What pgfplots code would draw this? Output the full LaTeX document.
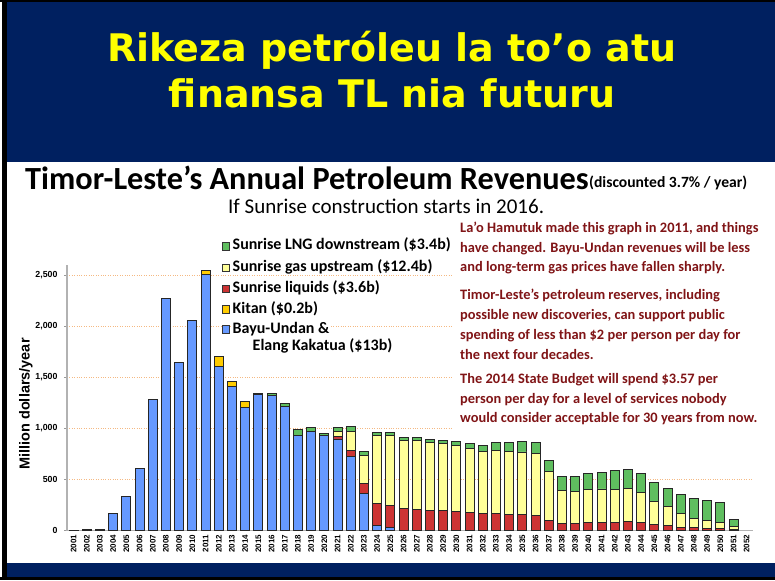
\documentclass[border=0pt]{standalone}
\usepackage{pgfplots}
\pgfplotsset{compat=1.18}
\usepackage{pgfplotstable}
\usepackage{fontspec}
\setmainfont{Carlito}
\newfontfamily\arialfont{Liberation Sans}
\newfontfamily\titlefont{DejaVu Sans}
\definecolor{navy}{RGB}{0,32,96}
\definecolor{ttlyellow}{RGB}{255,255,0}
\definecolor{cblue}{RGB}{102,153,255}
\definecolor{ckitan}{RGB}{255,204,0}
\definecolor{cred}{RGB}{204,51,51}
\definecolor{cyellow}{RGB}{255,255,153}
\definecolor{cgreen}{RGB}{95,190,95}
\definecolor{txtred}{RGB}{128,20,22}
\definecolor{gridorange}{RGB}{245,185,130}

\pgfplotstableread{
year blue kitan red yellow green
2001 5 0 0 0 0
2002 10 0 0 0 0
2003 13 0 0 0 0
2004 170 0 0 0 0
2005 332 0 0 0 0
2006 606 0 0 0 0
2007 1284 0 0 0 0
2008 2269 0 0 0 0
2009 1650 0 0 0 0
2010 2057 0 0 0 0
2011 2510 33 0 0 0
2012 1610 92 0 0 0
2013 1412 45 0 0 0
2014 1205 58 0 0 0
2015 1328 0 0 0 18
2016 1325 0 0 0 18
2017 1219 0 0 0 30
2018 932 0 0 0 60
2019 968 0 0 0 40
2020 927 0 0 0 27
2021 897 0 22 49 44
2022 724 0 62 182 56
2023 363 0 97 280 35
2024 52 0 215 665 30
2025 33 0 215 684 26
2026 0 0 215 672 29
2027 0 0 212 671 30
2028 0 0 202 659 32
2029 0 0 199 652 36
2030 0 0 192 643 39
2031 0 0 179 623 49
2032 0 0 166 607 62
2033 0 0 170 612 79
2034 0 0 163 610 94
2035 0 0 163 607 104
2036 0 0 150 603 111
2037 0 0 104 473 108
2038 0 0 75 316 137
2039 0 0 75 310 143
2040 0 0 82 322 157
2041 0 0 82 326 166
2042 0 0 82 322 186
2043 0 0 88 326 186
2044 0 0 82 293 189
2045 0 0 59 225 192
2046 0 0 49 186 179
2047 0 0 36 134 185
2048 0 0 29 95 192
2049 0 0 23 81 193
2050 0 0 20 65 192
2051 0 0 10 29 72
2052 0 0 0 0 0
}\datatable

\begin{document}
\begin{tikzpicture}[x=1pt,y=1pt]
\path[use as bounding box] (0,0) rectangle (775,580);
\fill[white] (0,0) rectangle (775,580);
% slide frame
\fill[navy] (7,418) rectangle (775,578);
\fill[black] (0,578) rectangle (775,580);
\fill[navy] (7,3) rectangle (775,17);
\fill[black] (0,0) rectangle (775,3);
\fill[black] (2,0) rectangle (7,580);
% slide title
\node[anchor=base, text=ttlyellow, inner sep=0, font=\titlefont\bfseries\fontsize{38}{42}\selectfont] at (392,518) {Rikeza petróleu la to’o atu};
\node[anchor=base, text=ttlyellow, inner sep=0, font=\titlefont\bfseries\fontsize{38}{42}\selectfont] at (392,472) {finansa TL nia futuru};

\begin{axis}[
  at={(67pt,49.3pt)}, anchor=south west,
  scale only axis, width=686.4pt, height=265.8pt,
  xmin=2000.5, xmax=2052.5, ymin=0, ymax=2600,
  ybar stacked, bar width=9pt,
  axis x line*=bottom, axis y line*=left,
  axis line style={draw=black!30, line width=1.2pt},
  xtick={2001,...,2052},
  ytick={0,500,...,2500},
  tick align=outside,
  major tick length=3pt,
  x tick style={draw=none},
  y tick style={draw=black!40, line width=0.6pt},
  ymajorgrids,
  grid style={gridorange, dotted, line width=0.9pt},
  /pgf/number format/assume math mode=true,
  /pgf/number format/1000 sep={,},
  yticklabel style={font=\arialfont\bfseries\fontsize{8.8}{10}\selectfont, xshift=-3pt},
  xticklabel style={rotate=90, anchor=east, inner sep=1pt, yshift=0pt,
     font=\arialfont\bfseries\fontsize{8}{9}\selectfont,
     /pgf/number format/1000 sep={}},
  every axis plot/.append style={draw=black!85, line width=0.9pt},
]
\addplot[fill=cblue] table[x=year,y=blue] {\datatable};
\addplot[fill=ckitan] table[x=year,y=kitan] {\datatable};
\addplot[fill=cred] table[x=year,y=red] {\datatable};
\addplot[fill=cyellow] table[x=year,y=yellow] {\datatable};
\addplot[fill=cgreen] table[x=year,y=green] {\datatable};
\end{axis}

% white box behind red notes (hides gridlines)
\fill[white] (452,146) rectangle (772,365);

% y label
\node[rotate=90, font=\arialfont\bfseries\fontsize{14.5}{16}\selectfont] at (26,176) {Million dollars/year};

% chart title
\node[anchor=base west, inner sep=0, font=\bfseries\fontsize{32.3}{36}\selectfont] at (25,390) {Timor-Leste’s Annual Petroleum Revenues};
\node[anchor=base west, inner sep=0, font=\bfseries\fontsize{15.6}{18}\selectfont] at (589,392) {(discounted 3.7\% / year)};
\node[anchor=base west, inner sep=0, font=\fontsize{21}{24}\selectfont] at (228,366.5) {If Sunrise construction starts in 2016.};

% legend
\begin{scope}[every node/.style={anchor=base west, fill=white, inner sep=0.5pt, font=\bfseries\fontsize{16}{18}\selectfont}]
\filldraw[fill=cgreen, draw=black!80, line width=0.6pt] (222,330) rectangle (229.5,337.5);
\node at (232,330) {Sunrise LNG downstream (\$3.4b)};
\filldraw[fill=cyellow, draw=black!80, line width=0.6pt] (222,308.5) rectangle (229.5,316);
\node at (232,308.5) {Sunrise gas upstream (\$12.4b)};
\filldraw[fill=cred, draw=black!80, line width=0.6pt] (222,287.5) rectangle (229.5,295);
\node at (232,287.5) {Sunrise liquids (\$3.6b)};
\filldraw[fill=ckitan, draw=black!80, line width=0.6pt] (222,266.7) rectangle (229.5,274.2);
\node at (232,266.7) {Kitan (\$0.2b)};
\node at (252,229) {Elang Kakatua (\$13b)};
\filldraw[fill=cblue, draw=black!80, line width=0.6pt] (222,246.7) rectangle (229.5,254.2);
\node at (232,246.7) {Bayu-Undan \&};
\end{scope}

% red notes
\begin{scope}[every node/.style={anchor=base west, inner sep=0, text=txtred, font=\bfseries\fontsize{14.4}{17}\selectfont}]
\node at (460,347) {La’o Hamutuk made this graph in 2011, and things};
\node at (460,327.5) {have changed. Bayu-Undan revenues will be less};
\node at (460,308) {and long-term gas prices have fallen sharply.};
\node at (460,280) {Timor-Leste’s petroleum reserves, including};
\node at (460,260) {possible new discoveries, can support public};
\node at (460,240) {spending of less than \$2 per person per day for};
\node at (460,220.5) {the next four decades.};
\node at (460,196.5) {The 2014 State Budget will spend \$3.57 per};
\node at (460,176.5) {person per day for a level of services nobody};
\node at (460,157) {would consider acceptable for 30 years from now.};
\end{scope}
\end{tikzpicture}
\end{document}
